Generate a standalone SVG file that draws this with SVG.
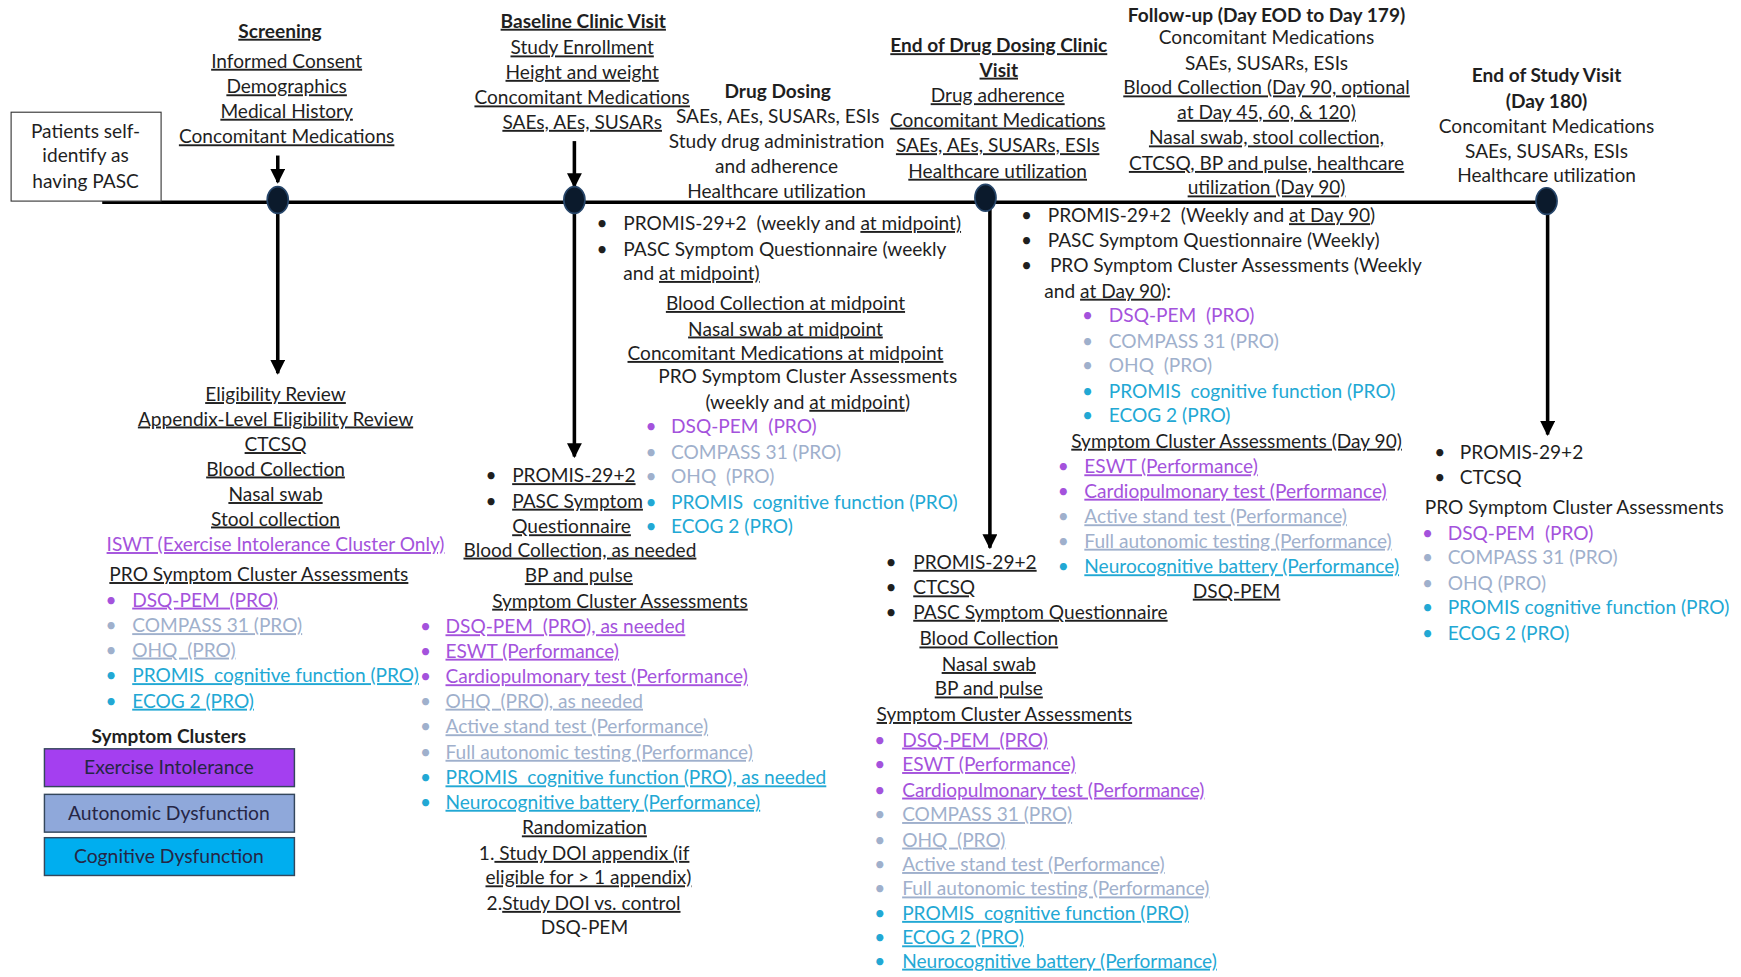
<svg xmlns="http://www.w3.org/2000/svg" width="1741" height="977" viewBox="0 0 1741 977">
<defs>
<style>
text{font-family:Lato,"Liberation Sans",sans-serif;font-size:17.2px;fill:#1f1f1f}
.c{text-anchor:middle}
.u{text-decoration:underline}
.b{font-weight:bold}
.p{fill:#a452dc}
.a{fill:#9fb0cc}
.g{fill:#22a8d4}
.dot{fill:#0b1a2c;stroke:#27466a;stroke-width:1.5}
.ln{stroke:#000;stroke-width:3.2;fill:none}
.lg{stroke:#34475c;stroke-width:1.3}
.lt{font-size:17.4px;fill:#262645}
</style>
<marker id="ah" viewBox="0 0 10 10" refX="9" refY="5" markerWidth="4.2" markerHeight="4.2" orient="auto"><path d="M0,0 L10,5 L0,10 z" fill="#000"/></marker>
</defs>
<rect width="1741" height="977" fill="#fff"/>
<g transform="scale(1.111)">

<g id="connectors">
<line class="ln" x1="92" y1="182" x2="1392" y2="182" stroke-width="4"/>
<line class="ln" x1="250" y1="140" x2="250" y2="164" marker-end="url(#ah)"/>
<line class="ln" x1="517" y1="127" x2="517" y2="168" marker-end="url(#ah)"/>
<line class="ln" x1="250" y1="184" x2="250" y2="336" marker-end="url(#ah)"/>
<line class="ln" x1="517" y1="184" x2="517" y2="411" marker-end="url(#ah)"/>
<line class="ln" x1="891" y1="184" x2="891" y2="493" marker-end="url(#ah)"/>
<line class="ln" x1="1393" y1="184" x2="1393" y2="391" marker-end="url(#ah)"/>
<ellipse class="dot" cx="250" cy="180" rx="9.5" ry="12"/>
<ellipse class="dot" cx="517" cy="180" rx="9.5" ry="12"/>
<ellipse class="dot" cx="887" cy="178" rx="9.5" ry="12"/>
<ellipse class="dot" cx="1392" cy="181" rx="9.5" ry="12"/>
</g>

<g id="patients">
<rect x="10" y="101" width="135" height="80" fill="#fff" stroke="#333" stroke-width="1"/>
<text class="c" x="77" y="124">Patients self-</text>
<text class="c" x="77" y="146">identify as</text>
<text class="c" x="77" y="169">having PASC</text>
</g>

<g id="screening">
<text class="c b u" x="252" y="34">Screening</text>
<text class="c u" x="258" y="61">Informed Consent</text>
<text class="c u" x="258" y="84">Demographics</text>
<text class="c u" x="258" y="106">Medical History</text>
<text class="c u" x="258" y="129">Concomitant Medications</text>
</g>

<g id="baseline">
<text class="c b u" x="525" y="25">Baseline Clinic Visit</text>
<text class="c u" x="524" y="49">Study Enrollment</text>
<text class="c u" x="524" y="71">Height and weight</text>
<text class="c u" x="524" y="94">Concomitant Medications</text>
<text class="c u" x="524" y="116">SAEs, AEs, SUSARs</text>
</g>

<g id="drug-dosing">
<text class="c b" x="700" y="88">Drug Dosing</text>
<text class="c" x="700" y="111">SAEs, AEs, SUSARs, ESIs</text>
<text class="c" x="699" y="133">Study drug administration</text>
<text class="c" x="699" y="156">and adherence</text>
<text class="c" x="699" y="178">Healthcare utilization</text>
</g>

<g id="end-dosing">
<text class="c b u" x="899" y="47">End of Drug Dosing Clinic</text>
<text class="c b u" x="899" y="69">Visit</text>
<text class="c u" x="898" y="92">Drug adherence</text>
<text class="c u" x="898" y="114">Concomitant Medications</text>
<text class="c u" x="898" y="137">SAEs, AEs, SUSARs, ESIs</text>
<text class="c u" x="898" y="160">Healthcare utilization</text>
</g>

<g id="follow-up">
<text class="c b" x="1140" y="20">Follow-up (Day EOD to Day 179)</text>
<text class="c" x="1140" y="40">Concomitant Medications</text>
<text class="c" x="1140" y="63">SAEs, SUSARs, ESIs</text>
<text class="c u" x="1140" y="85">Blood Collection (Day 90, optional</text>
<text class="c u" x="1140" y="107">at Day 45, 60, &amp; 120)</text>
<text class="c u" x="1140" y="130">Nasal swab, stool collection,</text>
<text class="c u" x="1140" y="153">CTCSQ, BP and pulse, healthcare</text>
<text class="c u" x="1140" y="175">utilization (Day 90)</text>
</g>

<g id="end-study">
<text class="c b" x="1392" y="74">End of Study Visit</text>
<text class="c b" x="1392" y="97">(Day 180)</text>
<text class="c" x="1392" y="120">Concomitant Medications</text>
<text class="c" x="1392" y="142">SAEs, SUSARs, ESIs</text>
<text class="c" x="1392" y="164">Healthcare utilization</text>
</g>

<g id="screening-details">
<text class="c u" x="248" y="361">Eligibility Review</text>
<text class="c u" x="248" y="383">Appendix-Level Eligibility Review</text>
<text class="c u" x="248" y="406">CTCSQ</text>
<text class="c u" x="248" y="428">Blood Collection</text>
<text class="c u" x="248" y="451">Nasal swab</text>
<text class="c u" x="248" y="473">Stool collection</text>
<text class="c u p" x="248" y="496">ISWT (Exercise Intolerance Cluster Only)</text>
<text class="c u" x="233" y="523">PRO Symptom Cluster Assessments</text>
<text class="p" x="95" y="546">•</text><text class="u p" x="119" y="546">DSQ-PEM&#160; (PRO)</text>
<text class="a" x="95" y="569">•</text><text class="u a" x="119" y="569">COMPASS 31 (PRO)</text>
<text class="a" x="95" y="591">•</text><text class="u a" x="119" y="591">OHQ&#160; (PRO)</text>
<text class="g" x="95" y="614">•</text><text class="u g" x="119" y="614">PROMIS&#160; cognitive function (PRO)</text>
<text class="g" x="95" y="637">•</text><text class="u g" x="119" y="637">ECOG 2 (PRO)</text>
</g>

<g id="legend">
<text class="c b" x="152" y="669">Symptom Clusters</text>
<rect class="lg" x="40" y="674" width="225" height="34" fill="#a43ff0"/>
<text class="c lt" x="152" y="697">Exercise Intolerance</text>
<rect class="lg" x="40" y="715" width="225" height="34" fill="#8fa8da"/>
<text class="c lt" x="152" y="738">Autonomic Dysfunction</text>
<rect class="lg" x="40" y="754" width="225" height="34" fill="#00aeef"/>
<text class="c lt" x="152" y="777">Cognitive Dysfunction</text>
</g>

<g id="baseline-details">
<text x="437" y="434">•</text><text class="u" x="461" y="434">PROMIS-29+2</text>
<text x="437" y="457">•</text><text class="u" x="461" y="457">PASC Symptom</text>
<text class="u" x="461" y="480">Questionnaire</text>
<text class="c u" x="522" y="501">Blood Collection, as needed</text>
<text class="c u" x="521" y="524">BP and pulse</text>
<text class="c u" x="558" y="547">Symptom Cluster Assessments</text>
<text class="p" x="378" y="570">•</text><text class="u p" x="401" y="570">DSQ-PEM&#160; (PRO), as needed</text>
<text class="p" x="378" y="592">•</text><text class="u p" x="401" y="592">ESWT (Performance)</text>
<text class="p" x="378" y="615">•</text><text class="u p" x="401" y="615">Cardiopulmonary test (Performance)</text>
<text class="a" x="378" y="637">•</text><text class="u a" x="401" y="637">OHQ&#160; (PRO), as needed</text>
<text class="a" x="378" y="660">•</text><text class="u a" x="401" y="660">Active stand test (Performance)</text>
<text class="a" x="378" y="683">•</text><text class="u a" x="401" y="683">Full autonomic testing (Performance)</text>
<text class="g" x="378" y="706">•</text><text class="u g" x="401" y="706">PROMIS&#160; cognitive function (PRO), as needed</text>
<text class="g" x="378" y="728">•</text><text class="u g" x="401" y="728">Neurocognitive battery (Performance)</text>
<text class="c u" x="526" y="751">Randomization</text>
<text x="431" y="774">1.<tspan class="u"> Study DOI appendix (if</tspan></text>
<text class="u" x="437" y="796">eligible for &gt; 1 appendix)</text>
<text x="438" y="819">2.<tspan class="u">Study DOI vs. control</tspan></text>
<text class="c" x="526" y="841">DSQ-PEM</text>
</g>

<g id="dosing-details">
<text x="537" y="207">•</text><text x="561" y="207">PROMIS-29+2&#160; (weekly and <tspan class="u">at midpoint)</tspan></text>
<text x="537" y="230">•</text><text x="561" y="230">PASC Symptom Questionnaire (weekly</text>
<text x="561" y="252">and <tspan class="u">at midpoint)</tspan></text>
<text class="c u" x="707" y="279">Blood Collection at midpoint</text>
<text class="c u" x="707" y="302">Nasal swab at midpoint</text>
<text class="c u" x="707" y="324">Concomitant Medications at midpoint</text>
<text class="c" x="727" y="345">PRO Symptom Cluster Assessments</text>
<text class="c" x="727" y="368">(weekly and <tspan class="u">at midpoint</tspan>)</text>
<text class="p" x="581" y="390">•</text><text class="p" x="604" y="390">DSQ-PEM&#160; (PRO)</text>
<text class="a" x="581" y="413">•</text><text class="a" x="604" y="413">COMPASS 31 (PRO)</text>
<text class="a" x="581" y="435">•</text><text class="a" x="604" y="435">OHQ&#160; (PRO)</text>
<text class="g" x="581" y="458">•</text><text class="g" x="604" y="458">PROMIS&#160; cognitive function (PRO)</text>
<text class="g" x="581" y="480">•</text><text class="g" x="604" y="480">ECOG 2 (PRO)</text>
</g>

<g id="end-dosing-details">
<text x="797" y="512">•</text><text class="u" x="822" y="512">PROMIS-29+2</text>
<text x="797" y="535">•</text><text class="u" x="822" y="535">CTCSQ</text>
<text x="797" y="557">•</text><text class="u" x="822" y="557">PASC Symptom Questionnaire</text>
<text class="c u" x="890" y="581">Blood Collection</text>
<text class="c u" x="890" y="604">Nasal swab</text>
<text class="c u" x="890" y="626">BP and pulse</text>
<text class="c u" x="904" y="649">Symptom Cluster Assessments</text>
<text class="p" x="787" y="672">•</text><text class="u p" x="812" y="672">DSQ-PEM&#160; (PRO)</text>
<text class="p" x="787" y="694">•</text><text class="u p" x="812" y="694">ESWT (Performance)</text>
<text class="p" x="787" y="717">•</text><text class="u p" x="812" y="717">Cardiopulmonary test (Performance)</text>
<text class="a" x="787" y="739">•</text><text class="u a" x="812" y="739">COMPASS 31 (PRO)</text>
<text class="a" x="787" y="762">•</text><text class="u a" x="812" y="762">OHQ&#160; (PRO)</text>
<text class="a" x="787" y="784">•</text><text class="u a" x="812" y="784">Active stand test (Performance)</text>
<text class="a" x="787" y="806">•</text><text class="u a" x="812" y="806">Full autonomic testing (Performance)</text>
<text class="g" x="787" y="828">•</text><text class="u g" x="812" y="828">PROMIS&#160; cognitive function (PRO)</text>
<text class="g" x="787" y="850">•</text><text class="u g" x="812" y="850">ECOG 2 (PRO)</text>
<text class="g" x="787" y="871">•</text><text class="u g" x="812" y="871">Neurocognitive battery (Performance)</text>
</g>

<g id="follow-up-details">
<text x="919" y="200">•</text><text x="943" y="200">PROMIS-29+2&#160; (Weekly and <tspan class="u">at Day 90</tspan>)</text>
<text x="919" y="222">•</text><text x="943" y="222">PASC Symptom Questionnaire (Weekly)</text>
<text x="919" y="245">•</text><text x="945" y="245">PRO Symptom Cluster Assessments (Weekly</text>
<text x="940" y="268">and <tspan class="u">at Day 90</tspan>):</text>
<text class="p" x="974" y="290">•</text><text class="p" x="998" y="290">DSQ-PEM&#160; (PRO)</text>
<text class="a" x="974" y="313">•</text><text class="a" x="998" y="313">COMPASS 31 (PRO)</text>
<text class="a" x="974" y="335">•</text><text class="a" x="998" y="335">OHQ&#160; (PRO)</text>
<text class="g" x="974" y="358">•</text><text class="g" x="998" y="358">PROMIS&#160; cognitive function (PRO)</text>
<text class="g" x="974" y="380">•</text><text class="g" x="998" y="380">ECOG 2 (PRO)</text>
<text class="c u" x="1113" y="403">Symptom Cluster Assessments (Day 90)</text>
<text class="p" x="952" y="426">•</text><text class="u p" x="976" y="426">ESWT (Performance)</text>
<text class="p" x="952" y="448">•</text><text class="u p" x="976" y="448">Cardiopulmonary test (Performance)</text>
<text class="a" x="952" y="471">•</text><text class="u a" x="976" y="471">Active stand test (Performance)</text>
<text class="a" x="952" y="493">•</text><text class="u a" x="976" y="493">Full autonomic testing (Performance)</text>
<text class="g" x="952" y="516">•</text><text class="u g" x="976" y="516">Neurocognitive battery (Performance)</text>
<text class="c u" x="1113" y="538">DSQ-PEM</text>
</g>

<g id="end-study-details">
<text x="1291" y="413">•</text><text x="1314" y="413">PROMIS-29+2</text>
<text x="1291" y="436">•</text><text x="1314" y="436">CTCSQ</text>
<text class="c" x="1417" y="463">PRO Symptom Cluster Assessments</text>
<text class="p" x="1280" y="486">•</text><text class="p" x="1303" y="486">DSQ-PEM&#160; (PRO)</text>
<text class="a" x="1280" y="508">•</text><text class="a" x="1303" y="508">COMPASS 31 (PRO)</text>
<text class="a" x="1280" y="531">•</text><text class="a" x="1303" y="531">OHQ (PRO)</text>
<text class="g" x="1280" y="553">•</text><text class="g" x="1303" y="553">PROMIS cognitive function (PRO)</text>
<text class="g" x="1280" y="576">•</text><text class="g" x="1303" y="576">ECOG 2 (PRO)</text>
</g>

</g>
</svg>
